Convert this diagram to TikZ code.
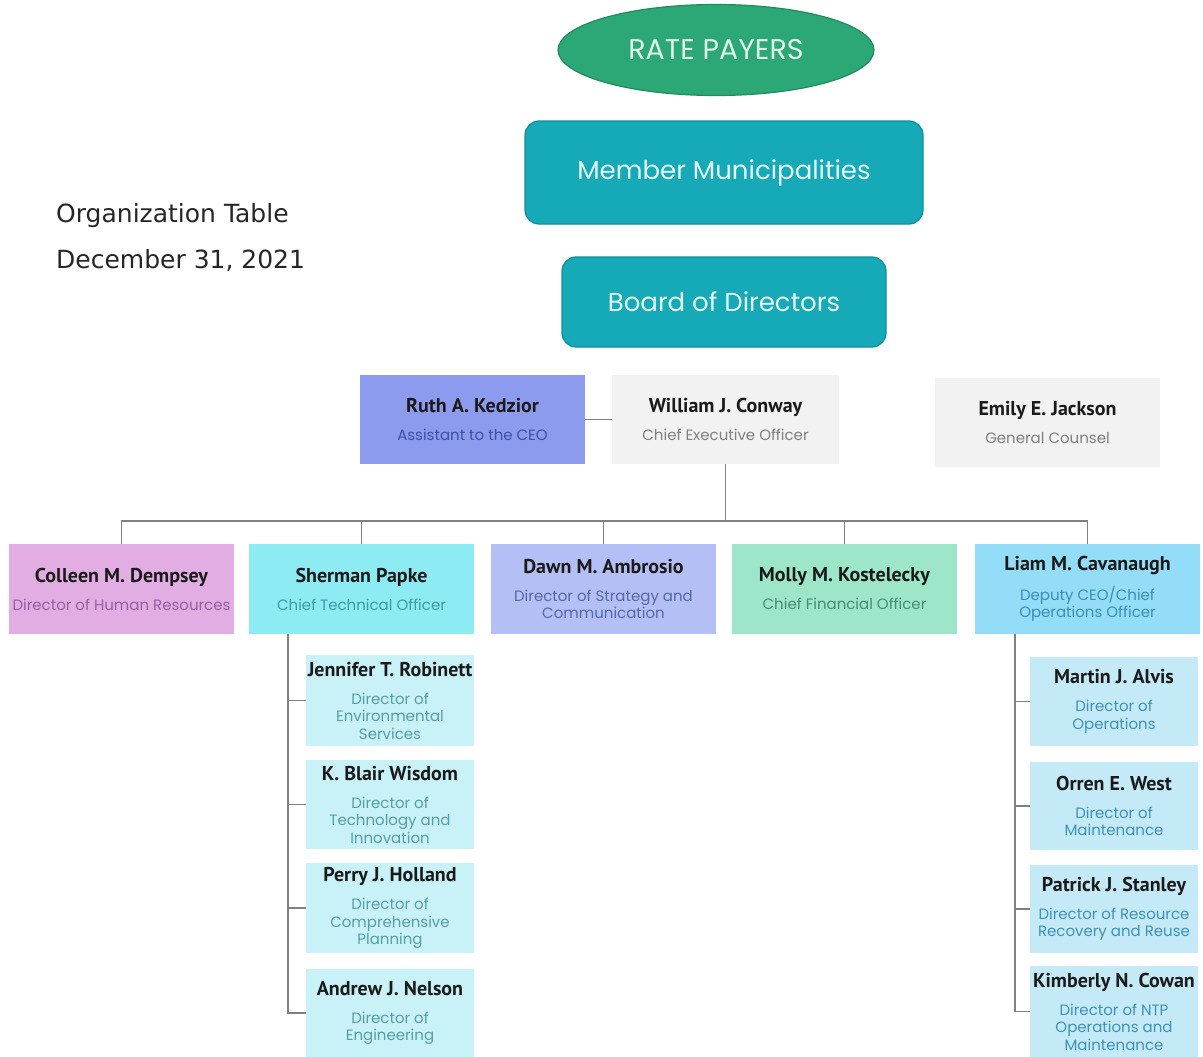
\documentclass[tikz,border=0pt]{standalone}
\usepackage{fontspec}
\usetikzlibrary{shapes.geometric}
\newfontfamily\namef{PT Sans}
\newfontfamily\subf{Poppins}
\newfontfamily\titf{DejaVu Sans}
\definecolor{rpgreen}{HTML}{2BA875}
\definecolor{rpgreenD}{HTML}{1E8C5C}
\definecolor{rptext}{HTML}{E0F5EA}
\definecolor{teal}{HTML}{16A9B8}
\definecolor{tealD}{HTML}{0E8F9C}
\definecolor{tealtext}{HTML}{E4F8FA}
\definecolor{nameC}{HTML}{1A1A1A}
\definecolor{ruthF}{HTML}{8D9BEF}\definecolor{ruthS}{HTML}{3D4FA8}
\definecolor{ceoF}{HTML}{F2F2F2}\definecolor{ceoS}{HTML}{808080}
\definecolor{colF}{HTML}{E1ADE3}\definecolor{colS}{HTML}{9B5BA3}
\definecolor{sheF}{HTML}{8DEBF3}\definecolor{sheS}{HTML}{3E9AA3}
\definecolor{dawF}{HTML}{B4C0F5}\definecolor{dawS}{HTML}{5566AA}
\definecolor{molF}{HTML}{9DE6C9}\definecolor{molS}{HTML}{4A8C72}
\definecolor{liaF}{HTML}{94DDF8}\definecolor{liaS}{HTML}{3C8DB5}
\definecolor{lchF}{HTML}{C8F2F8}\definecolor{lchS}{HTML}{559FA8}
\definecolor{rchF}{HTML}{C5EAF7}\definecolor{rchS}{HTML}{3E92B8}
\definecolor{connC}{HTML}{808080}
\newcommand{\psn}[2]{{\namef\bfseries\fontsize{20}{24}\selectfont\color{nameC}#1}\\[10.5pt]#2}
\tikzset{
  pbox/.style={rectangle, inner sep=0pt, align=center, minimum height=90pt, minimum width=225pt,
     font=\subf\fontsize{15}{17.5}\selectfont},
  chbox/.style={rectangle, inner sep=0pt, align=center, minimum height=89pt, minimum width=168pt,
     font=\subf\fontsize{15}{17.5}\selectfont},
  topbox/.style={rectangle, rounded corners=14pt, fill=teal, draw=tealD, line width=1.2pt, inner sep=0pt,
     font=\subf\fontsize{26}{30}\selectfont, text=tealtext},
  titletext/.style={anchor=base west, inner sep=0pt, font=\titf\fontsize{25}{30}\selectfont, text=black!85},
  conn/.style={draw=connC, line width=1.6pt}
}
\begin{document}
\begin{tikzpicture}[x=1pt,y=-1pt]
\fill[white] (0,0) rectangle (1203,1057);
\useasboundingbox (0,0) rectangle (1203,1057);
% title
\node[titletext] (t1) at (56,222) {Organization Table};
\node[titletext] (t2) at (56,268) {December 31, 2021};
% top
\node[ellipse, fill=rpgreen, draw=rpgreenD, line width=1.2pt, minimum width=316pt, minimum height=91pt, inner sep=0pt,
  font=\subf\fontsize{28.5}{32}\selectfont, text=rptext] (rp) at (716,50) {RATE PAYERS};
\node[topbox, minimum width=398pt, minimum height=103pt] (mm) at (724,172.5) {Member Municipalities};
\node[topbox, minimum width=324pt, minimum height=90pt] (bd) at (724,302) {Board of Directors};
% CEO row
\node[pbox, fill=ruthF, text=ruthS, minimum height=89pt] (ruth) at (472.5,419.5) {\psn{Ruth A. Kedzior}{Assistant to the CEO}};
\node[pbox, fill=ceoF, text=ceoS, minimum width=227pt, minimum height=89pt] (ceo) at (725.5,419.5) {\psn{William J. Conway}{Chief Executive Officer}};
\node[pbox, fill=ceoF, text=ceoS, minimum height=89pt] (emily) at (1047.5,422.5) {\psn{Emily E. Jackson}{General Counsel}};
% directors
\node[pbox, fill=colF, text=colS] (col) at (121.5,589) {\psn{Colleen M. Dempsey}{Director of Human Resources}};
\node[pbox, fill=sheF, text=sheS] (she) at (361.5,589) {\psn{Sherman Papke}{Chief Technical Officer}};
\node[pbox, fill=dawF, text=dawS] (daw) at (603.5,589) {\psn{Dawn M. Ambrosio}{Director of Strategy and\\Communication}};
\node[pbox, fill=molF, text=molS] (mol) at (844.5,589) {\psn{Molly M. Kostelecky}{Chief Financial Officer}};
\node[pbox, fill=liaF, text=liaS] (lia) at (1087.5,589) {\psn{Liam M. Cavanaugh}{Deputy CEO/Chief\\Operations Officer}};
% left children
\node[chbox, fill=lchF, text=lchS, minimum height=91pt] (jen) at (390,700.5) {\psn{Jennifer T. Robinett}{Director of\\Environmental\\Services}};
\node[chbox, fill=lchF, text=lchS] (bla) at (390,804.5) {\psn{K. Blair Wisdom}{Director of\\Technology and\\Innovation}};
\node[chbox, fill=lchF, text=lchS, minimum height=90pt] (per) at (390,908) {\psn{Perry J. Holland}{Director of\\Comprehensive\\Planning}};
\node[chbox, fill=lchF, text=lchS, minimum height=88pt] (and) at (390,1013) {\psn{Andrew J. Nelson}{Director of\\Engineering}};
% right children
\node[chbox, fill=rchF, text=rchS] (mar) at (1114,701.5) {\psn{Martin J. Alvis}{Director of\\Operations}};
\node[chbox, fill=rchF, text=rchS, minimum height=88pt] (orr) at (1114,806) {\psn{Orren E. West}{Director of\\Maintenance}};
\node[chbox, fill=rchF, text=rchS, minimum height=88pt] (pat) at (1114,909) {\psn{Patrick J. Stanley}{Director of Resource\\Recovery and Reuse}};
\node[chbox, fill=rchF, text=rchS, minimum height=91pt] (kim) at (1114,1011.5) {\psn{Kimberly N. Cowan}{Director of NTP\\Operations and\\Maintenance}};
% connectors
\coordinate (busy) at (0,521);
\coordinate (sv) at (288,0);
\coordinate (lv) at (1015,0);
\draw[conn] (ruth.east) -- (ceo.west);
\draw[conn] (ceo.south) -- (ceo.south |- busy);
\draw[conn] (col.north) |- (lia.north |- busy) -- (lia.north);
\draw[conn] (she.north) -- (she.north |- busy);
\draw[conn] (daw.north) -- (daw.north |- busy);
\draw[conn] (mol.north) -- (mol.north |- busy);
\draw[conn] (she.south -| sv) |- (and.west);
\draw[conn] (jen.west) -- (jen.west -| sv);
\draw[conn] (bla.west) -- (bla.west -| sv);
\draw[conn] (per.west) -- (per.west -| sv);
\draw[conn] (lia.south -| lv) |- (kim.west);
\draw[conn] (mar.west) -- (mar.west -| lv);
\draw[conn] (orr.west) -- (orr.west -| lv);
\draw[conn] (pat.west) -- (pat.west -| lv);
\end{tikzpicture}
\end{document}
